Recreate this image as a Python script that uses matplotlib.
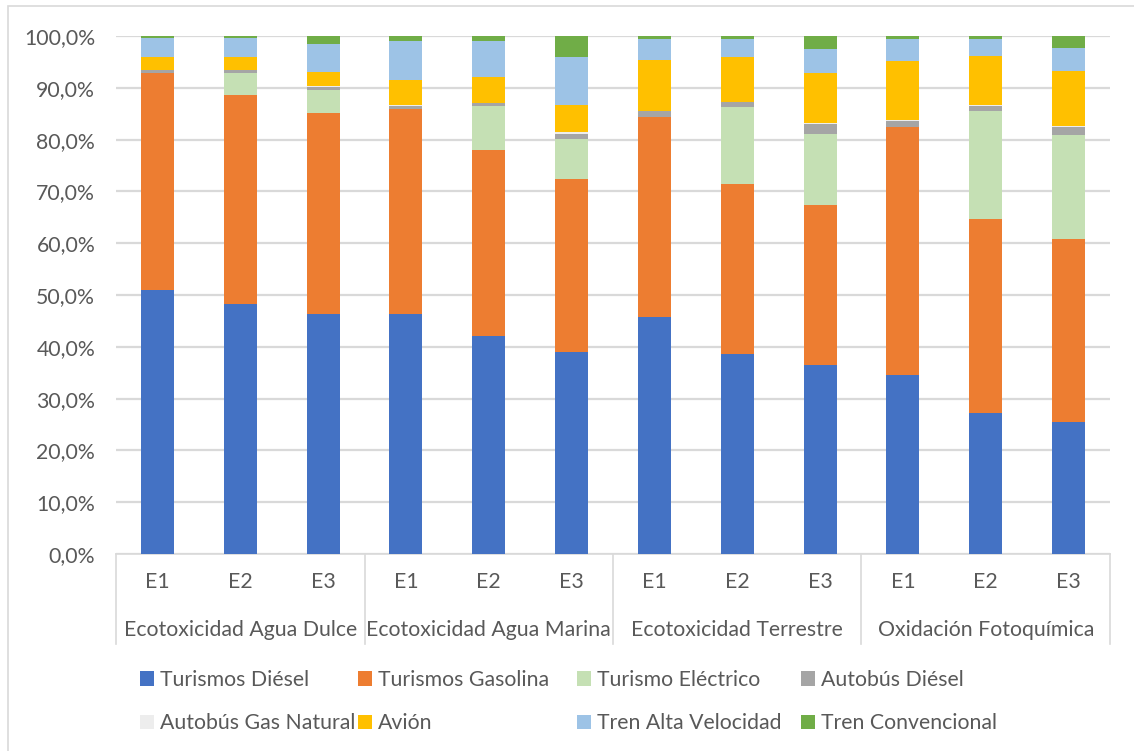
import numpy as np
import matplotlib
matplotlib.use("Agg")
import matplotlib.pyplot as plt
from matplotlib.patches import Rectangle
from matplotlib.ticker import FuncFormatter
import matplotlib.transforms as mtransforms

plt.rcParams['font.family'] = ['Lato', 'DejaVu Sans']

# categorias de impacto y escenarios
grupos = ["Ecotoxicidad Agua Dulce", "Ecotoxicidad Agua Marina",
          "Ecotoxicidad Terrestre", "Oxidación Fotoquímica"]
escenarios = ["E1", "E2", "E3"]

# contribucion (%) de cada modo de transporte
turismos_diesel = [51.0, 48.2, 46.3, 46.3, 42.0, 38.9, 45.8, 38.7, 36.5, 34.6, 27.2, 25.5]
turismos_gasolina = [41.9, 40.4, 38.9, 39.7, 35.9, 33.4, 38.6, 32.7, 30.8, 47.8, 37.5, 35.4]
turismo_electrico = [0.0, 4.3, 4.4, 0.0, 8.6, 7.8, 0.0, 14.8, 13.8, 0.0, 20.8, 19.9]
autobus_diesel = [0.5, 0.5, 0.6, 0.5, 0.5, 1.0, 1.1, 1.0, 2.0, 1.2, 1.0, 1.6]
autobus_gn = [0.1, 0.1, 0.1, 0.1, 0.1, 0.3, 0.1, 0.1, 0.1, 0.1, 0.1, 0.2]
avion = [2.4, 2.4, 2.7, 5.0, 5.0, 5.3, 9.8, 8.6, 9.6, 11.5, 9.5, 10.6]
tren_av = [3.7, 3.7, 5.5, 7.4, 6.9, 9.3, 4.0, 3.6, 4.7, 4.3, 3.4, 4.5]
tren_conv = [0.4, 0.4, 1.5, 1.0, 1.0, 4.0, 0.6, 0.5, 2.5, 0.5, 0.5, 2.3]

series = [
    ("Turismos Diésel", turismos_diesel, "#4472C4"),
    ("Turismos Gasolina", turismos_gasolina, "#ED7D31"),
    ("Turismo Eléctrico", turismo_electrico, "#C5E0B4"),
    ("Autobús Diésel", autobus_diesel, "#A5A5A5"),
    ("Autobús Gas Natural", autobus_gn, "#EDEDED"),
    ("Avión", avion, "#FFC000"),
    ("Tren Alta Velocidad", tren_av, "#9DC3E6"),
    ("Tren Convencional", tren_conv, "#70AD47"),
]

texto = "#595959"
linea = "#D9D9D9"
fs = 15.3

fig = plt.figure(figsize=(11.34, 7.51), dpi=100)
ax = fig.add_axes([116 / 1134, 1 - 554 / 751, (1110 - 116) / 1134, 518 / 751])

# marco del grafico
fig.patches.append(Rectangle((8 / 1134, -0.1), 1.2, 1 - 6 / 751 + 0.1,
                             transform=fig.transFigure, fill=False,
                             edgecolor=linea, linewidth=1.2))

x = np.arange(len(turismos_diesel))
base = np.zeros(len(x))
handles = []
for nombre, vals, color in series:
    b = ax.bar(x, vals, 0.4, bottom=base, color=color, label=nombre, zorder=3)
    handles.append(b)
    base += np.array(vals)

ax.set_xlim(-0.5, len(x) - 0.5)
ax.set_ylim(0, 100)
ax.set_yticks(np.arange(0, 101, 10))
ax.yaxis.set_major_formatter(FuncFormatter(lambda v, p: f"{v:.1f}%".replace(".", ",")))
ax.grid(axis="y", color=linea, linewidth=1.6, zorder=0)
for s in ["top", "right", "left"]:
    ax.spines[s].set_visible(False)
ax.spines["bottom"].set_color(linea)
ax.spines["bottom"].set_linewidth(1.2)
ax.tick_params(axis="y", length=0, pad=15, labelsize=fs, labelcolor=texto)
ax.tick_params(axis="x", length=0, pad=0)

# eje de categorias en dos niveles
ax.set_xticks(x)
ax.set_xticklabels([])
trans = mtransforms.blended_transform_factory(ax.transData, ax.transAxes)
for i in x:
    ax.text(i, -0.054, escenarios[i % 3], transform=trans, ha="center", va="center",
            fontsize=fs, color=texto)
for g, nombre in enumerate(grupos):
    ax.text(3 * g + 1, -0.147, nombre, transform=trans, ha="center", va="center",
            fontsize=fs, color=texto)
for sx in np.arange(-0.5, len(x), 3):
    ax.plot([sx, sx], [0, -0.174], transform=trans, color=linea, linewidth=1.2,
            clip_on=False)

# leyenda en cuatro columnas
col_x = [140, 358, 577, 801]
for c in range(4):
    fig.legend(handles=[handles[c], handles[c + 4]], loc="upper left",
               bbox_to_anchor=(col_x[c] / 1134, 1 - 670 / 751),
               frameon=False, fontsize=fs, labelcolor=texto,
               handlelength=0.65, handleheight=0.65, handletextpad=0.3,
               labelspacing=1.1, borderpad=0, borderaxespad=0)

fig.savefig("out.png", dpi=100)
